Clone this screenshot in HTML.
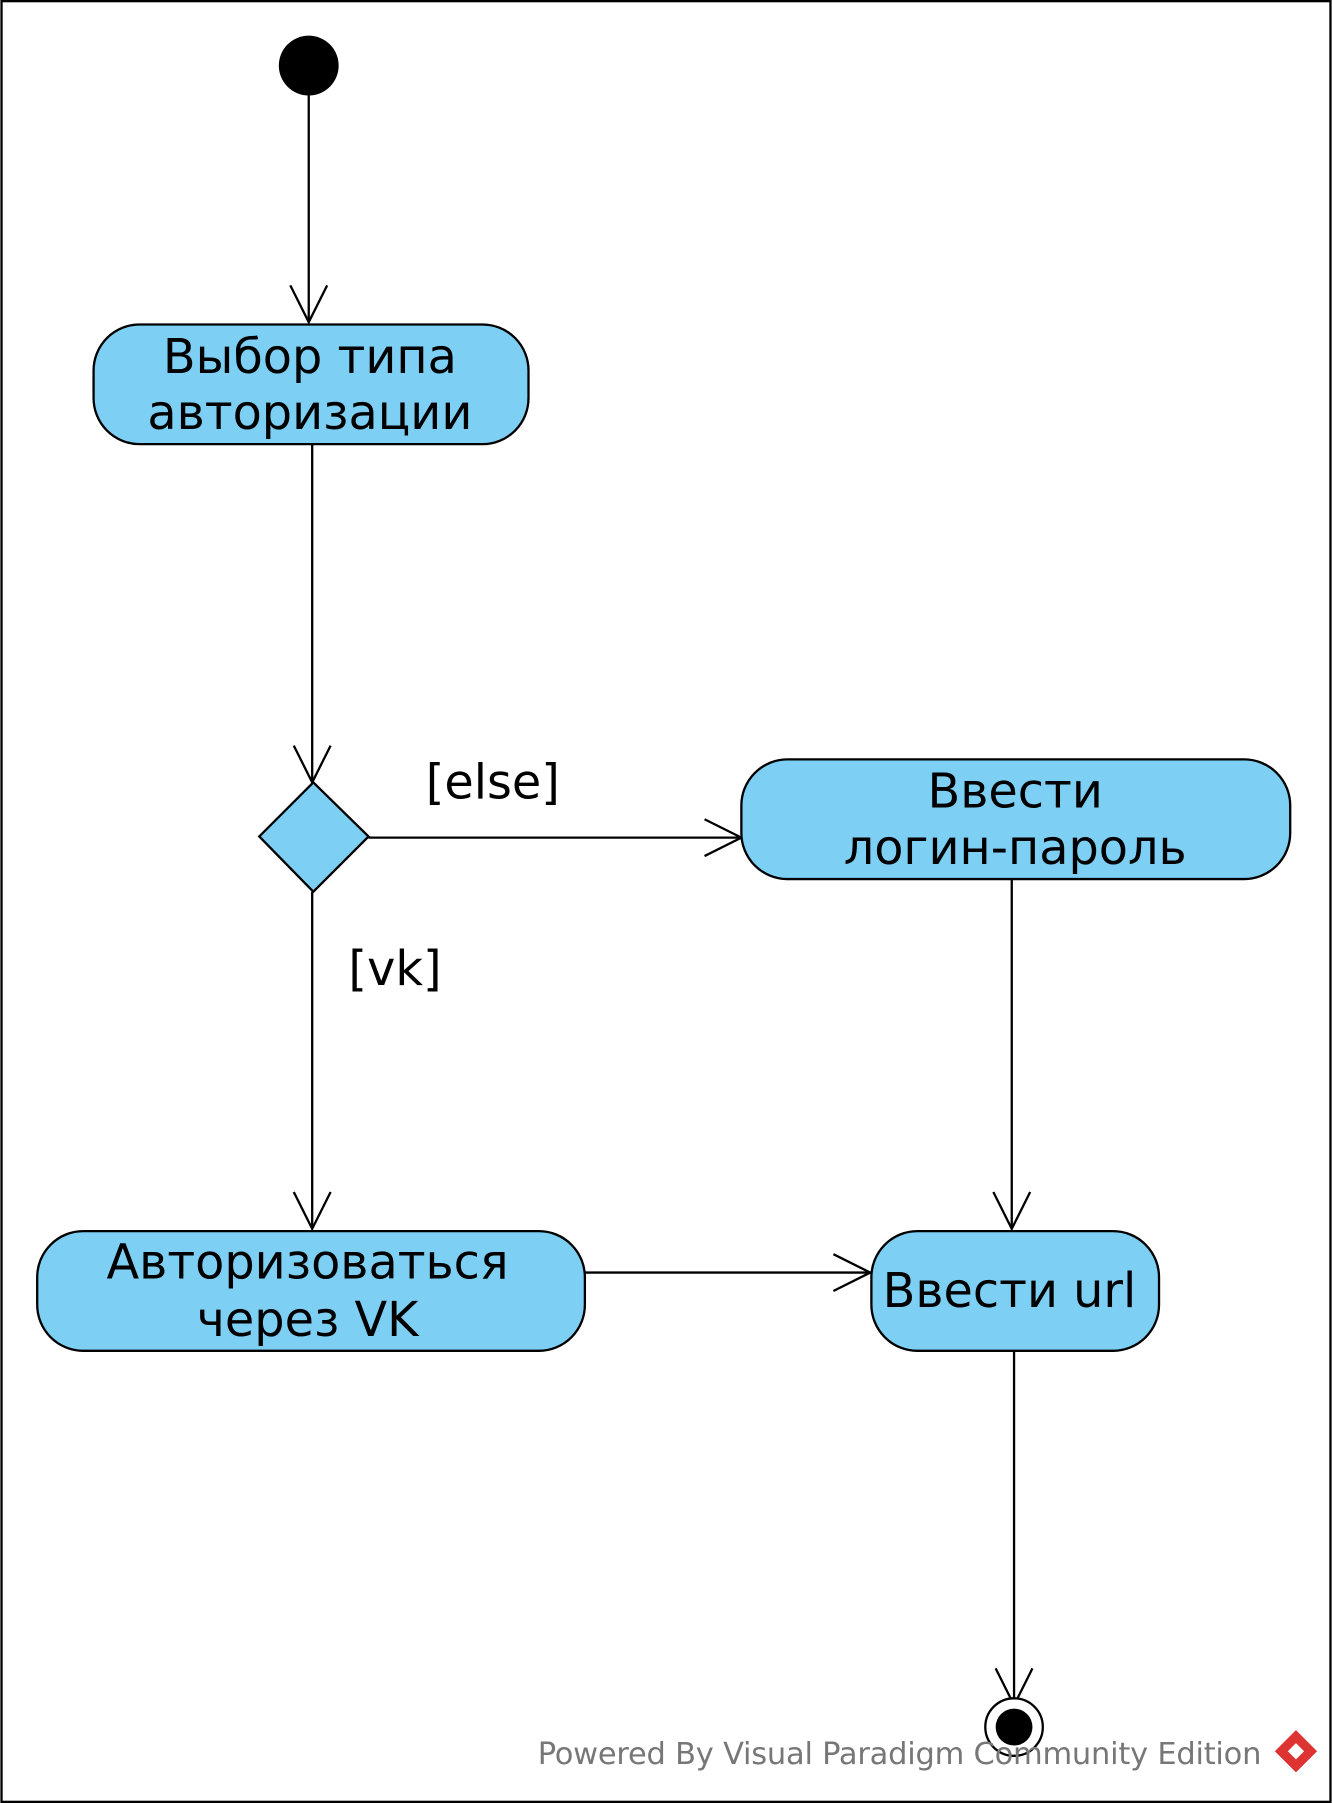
<!DOCTYPE html>
<html><head><meta charset="utf-8"><style>html,body{margin:0;padding:0;background:#fff}svg{display:block}</style></head>
<body>
<svg width="1332" height="1803" viewBox="0 0 1157 1567" xmlns="http://www.w3.org/2000/svg">
<rect x="1" y="1" width="1155" height="1565" fill="#fff" stroke="#000" stroke-width="2"/>
<g stroke="#000" stroke-width="2" fill="none">
<line x1="268" y1="83" x2="268" y2="280"/><polyline points="252,248 268,280 284,248"/>
<line x1="271" y1="386" x2="271" y2="680"/><polyline points="255,648 271,680 287,648"/>
<line x1="320" y1="728" x2="644" y2="728"/><polyline points="612,712 644,728 612,744"/>
<line x1="879" y1="764" x2="879" y2="1068"/><polyline points="863,1036 879,1068 895,1036"/>
<line x1="271" y1="775" x2="271" y2="1068"/><polyline points="255,1036 271,1068 287,1036"/>
<line x1="508" y1="1106" x2="756" y2="1106"/><polyline points="724,1090 756,1106 724,1122"/>
<line x1="881" y1="1174" x2="881" y2="1482"/><polyline points="865,1450 881,1482 897,1450"/>
</g>
<circle cx="268" cy="57" r="26" fill="#000"/>
<g fill="#7dcff4" stroke="#000" stroke-width="2">
<rect x="81" y="282" width="378" height="104" rx="40"/>
<polygon points="272,680 320,727 272,775 225,727"/>
<rect x="644" y="660" width="477" height="104" rx="40"/>
<rect x="32" y="1070" width="476" height="104" rx="40"/>
<rect x="757" y="1070" width="250" height="104" rx="40"/>
</g>
<circle cx="881" cy="1501" r="25" fill="#fff" stroke="#000" stroke-width="2"/>
<circle cx="881" cy="1501" r="16" fill="#000"/>
<g font-family="'DejaVu Sans','Liberation Sans',sans-serif" font-size="41.5" fill="#000" text-anchor="middle">
<text x="269" y="324">Выбор типа</text>
<text x="269" y="373">авторизации</text>
<text x="882" y="702">Ввести</text>
<text x="882" y="751">логин-пароль</text>
<text x="267" y="1111">Авторизоваться</text>
<text x="267" y="1161">через VK</text>
<text x="877" y="1136">Ввести url</text>
<text x="428" y="694">[else]</text>
<text x="343" y="856">[vk]</text>
</g>
<text x="467" y="1533" font-family="'DejaVu Sans','Liberation Sans',sans-serif" font-size="26.5" fill="#777" textLength="629">Powered By Visual Paradigm Community Edition</text>
<g transform="translate(1126,1522) rotate(45)"><rect x="-13" y="-13" width="26" height="26" fill="#d33"/><rect x="-5" y="-5" width="10" height="10" fill="#fff"/></g>
</svg>
</body></html>
